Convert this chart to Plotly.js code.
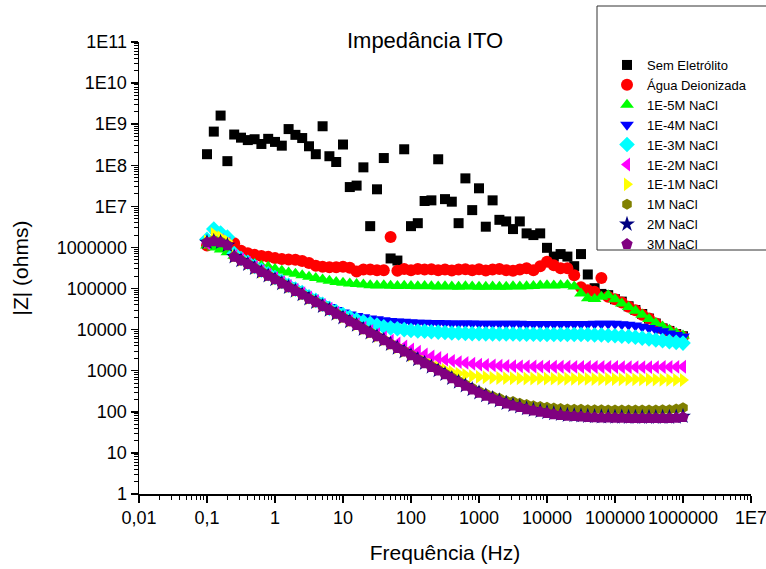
<!DOCTYPE html>
<html>
<head>
<meta charset="utf-8">
<script src="https://cdn.plot.ly/plotly-3.0.1.min.js"></script>
<style>html,body{margin:0;padding:0;background:#fff}#chart{width:766px;height:569px}</style>
</head>
<body>
<div id="chart"></div>
<script>
var freq = [0.1,0.1259,0.1585,0.1995,0.2512,0.3162,0.3981,0.5012,0.631,0.7943,
  1,1.259,1.585,1.995,2.512,3.162,3.981,5.012,6.31,7.943,
  10,12.59,15.85,19.95,25.12,31.62,39.81,50.12,63.1,79.43,
  100,125.9,158.5,199.5,251.2,316.2,398.1,501.2,631,794.3,
  1000,1259,1585,1995,2512,3162,3981,5012,6310,7943,
  10000,12590,15850,19950,25120,31620,39810,50120,63100,79430,
  100000,125900,158500,199500,251200,316200,398100,501200,631000,794300,
  1000000];

var semEletrolito = [1.86e8,6.6e8,1.62e9,1.26e8,5.6e8,4.7e8,4.1e8,4.3e8,3.3e8,4.4e8,
  3.7e8,3.0e8,7.6e8,5.5e8,4.6e8,2.9e8,1.86e8,8.9e8,1.66e8,1.2e8,
  3.2e8,2.95e7,3.2e7,8.9e7,3.3e6,2.6e7,1.5e8,5.4e5,4.8e5,2.45e8,
  3.3e6,3.9e6,1.35e7,1.4e7,1.4e8,1.5e7,1.3e7,3.9e6,4.8e7,8.1e6,
  2.75e7,3.2e6,1.4e7,4.7e6,4.3e6,2.8e6,4.3e6,2.2e6,2.0e6,2.2e6,
  9.8e5,6.0e5,6.9e5,6.0e5,3.5e5,6.9e5,2.2e5,1.02e5,7.4e4,6.9e4,
  5.5e4,4.8e4,3.7e4,3.0e4,2.4e4,1.86e4,1.41e4,1.07e4,9.3e3,7.8e3,
  6.9e3];

var aguaDeionizada = [1.12e6,1.26e6,1.2e6,1.12e6,1.26e6,8.3e5,7.2e5,6.6e5,6.2e5,5.9e5,
  5.5e5,5.2e5,5.1e5,5.0e5,4.7e5,4.2e5,3.6e5,3.4e5,3.3e5,3.3e5,
  3.4e5,3.2e5,2.6e5,2.9e5,2.9e5,2.8e5,2.8e5,1.8e6,2.7e5,3.0e5,
  2.8e5,3.0e5,2.9e5,2.95e5,2.8e5,2.9e5,2.75e5,2.9e5,2.95e5,2.8e5,
  2.95e5,2.75e5,2.9e5,3.0e5,2.8e5,2.7e5,2.9e5,3.1e5,2.8e5,3.5e5,
  4.5e5,3.7e5,3.1e5,3.1e5,2.1e5,1.07e5,9.1e4,8.3e4,1.8e5,6.3e4,
  5.5e4,4.6e4,3.6e4,2.95e4,2.3e4,1.86e4,1.41e4,1.07e4,9.1e3,7.6e3,
  6.6e3];

var nacl1em5 = [1.12e6,1.0e6,8.9e5,7.6e5,6.3e5,5.2e5,4.6e5,4.0e5,3.6e5,3.4e5,
  3.0e5,2.7e5,2.45e5,2.3e5,2.1e5,1.95e5,1.8e5,1.66e5,1.55e5,1.45e5,
  1.38e5,1.32e5,1.29e5,1.26e5,1.2e5,1.18e5,1.2e5,1.17e5,1.15e5,1.17e5,
  1.15e5,1.13e5,1.15e5,1.13e5,1.12e5,1.14e5,1.12e5,1.11e5,1.13e5,1.12e5,
  1.1e5,1.1e5,1.12e5,1.1e5,1.11e5,1.13e5,1.12e5,1.14e5,1.16e5,1.18e5,
  1.2e5,1.18e5,1.2e5,1.22e5,1.12e5,7.6e4,5.8e4,5.6e4,6.3e4,6.9e4,
  5.5e4,4.3e4,3.55e4,2.9e4,2.3e4,1.82e4,1.45e4,1.2e4,1.0e4,8.3e3,
  7.2e3];

var nacl1em4 = [1.41e6,2.4e6,2.0e6,1.58e6,6.6e5,5.3e5,4.3e5,3.4e5,2.75e5,2.25e5,
  1.83e5,1.45e5,1.18e5,9.6e4,7.8e4,6.2e4,5.05e4,4.1e4,3.55e4,3.0e4,
  2.63e4,2.34e4,2.14e4,2.0e4,1.86e4,1.78e4,1.7e4,1.62e4,1.58e4,1.55e4,
  1.51e4,1.48e4,1.48e4,1.45e4,1.45e4,1.43e4,1.42e4,1.42e4,1.41e4,1.41e4,
  1.4e4,1.4e4,1.4e4,1.39e4,1.39e4,1.39e4,1.39e4,1.38e4,1.38e4,1.38e4,
  1.38e4,1.38e4,1.38e4,1.38e4,1.38e4,1.38e4,1.38e4,1.39e4,1.4e4,1.4e4,
  1.39e4,1.35e4,1.32e4,1.26e4,1.17e4,1.1e4,1.0e4,9.1e3,8.1e3,7.4e3,
  6.8e3];

var nacl1em3 = [1.58e6,2.82e6,2.24e6,1.78e6,7.1e5,5.4e5,4.35e5,3.45e5,2.8e5,2.3e5,
  1.86e5,1.48e5,1.2e5,9.7e4,8.0e4,6.3e4,5.15e4,4.15e4,3.3e4,2.75e4,
  2.34e4,2.0e4,1.74e4,1.55e4,1.41e4,1.29e4,1.17e4,1.1e4,1.05e4,1.0e4,
  9.5e3,9.3e3,9.1e3,8.9e3,8.7e3,8.5e3,8.3e3,8.3e3,8.1e3,8.0e3,
  8.0e3,7.9e3,7.9e3,7.8e3,7.8e3,7.8e3,7.7e3,7.7e3,7.7e3,7.6e3,
  7.6e3,7.6e3,7.6e3,7.6e3,7.6e3,7.6e3,7.6e3,7.4e3,7.4e3,7.2e3,
  7.1e3,6.9e3,6.8e3,6.5e3,6.2e3,5.9e3,5.6e3,5.4e3,5.1e3,4.9e3,
  4.7e3];

var nacl1em2 = [1.26e6,1.66e6,1.51e6,1.26e6,6.2e5,5.2e5,4.2e5,3.35e5,2.7e5,2.2e5,
  1.8e5,1.43e5,1.16e5,9.4e4,7.7e4,6.05e4,5.0e4,4.0e4,3.25e4,2.6e4,
  2.0e4,1.62e4,1.35e4,1.12e4,9.3e3,7.8e3,6.5e3,5.4e3,4.6e3,3.9e3,
  3.3e3,2.9e3,2.5e3,2.24e3,2.04e3,1.86e3,1.74e3,1.62e3,1.55e3,1.48e3,
  1.41e3,1.38e3,1.35e3,1.32e3,1.3e3,1.29e3,1.28e3,1.27e3,1.27e3,1.26e3,
  1.26e3,1.25e3,1.25e3,1.25e3,1.24e3,1.24e3,1.24e3,1.23e3,1.23e3,1.23e3,
  1.23e3,1.22e3,1.22e3,1.22e3,1.22e3,1.22e3,1.22e3,1.23e3,1.23e3,1.24e3,
  1.25e3];

var nacl1em1 = [1.41e6,2.14e6,1.78e6,1.41e6,6.3e5,5.0e5,4.1e5,3.25e5,2.6e5,2.15e5,
  1.75e5,1.38e5,1.12e5,9.1e4,7.45e4,5.9e4,4.8e4,3.9e4,3.15e4,2.5e4,
  2.05e4,1.66e4,1.35e4,1.07e4,8.7e3,7.1e3,5.8e3,4.6e3,3.7e3,3.05e3,
  2.4e3,2.0e3,1.66e3,1.41e3,1.2e3,1.05e3,933,851,794,741,
  708,692,676,665,660,655,650,648,645,643,
  640,640,638,636,635,634,632,630,630,628,
  625,622,620,618,615,612,608,605,600,598,
  595];

var nacl1M = [1.35e6,1.5e6,1.4e6,1.15e6,6.1e5,4.95e5,4.0e5,3.2e5,2.6e5,2.1e5,
  1.7e5,1.36e5,1.1e5,9.0e4,7.3e4,5.8e4,4.75e4,3.8e4,3.1e4,2.5e4,
  2.0e4,1.63e4,1.33e4,1.05e4,8.6e3,7.0e3,5.7e3,4.55e3,3.7e3,3.0e3,
  2.45e3,1.94e3,1.58e3,1.29e3,1.05e3,860,690,565,465,380,
  316,275,240,214,185,178,162,151,141,135,
  129,123,120,117,115,115,112,112,112,110,
  110,110,110,110,110,110,110,112,112,117,
  126];

var nacl2M = [1.34e6,1.43e6,1.34e6,1.13e6,5.95e5,4.82e5,3.92e5,3.12e5,2.52e5,2.05e5,
  1.67e5,1.33e5,1.08e5,8.8e4,7.15e4,5.65e4,4.65e4,3.72e4,3.02e4,2.42e4,
  1.96e4,1.59e4,1.3e4,1.03e4,8.4e3,6.85e3,5.55e3,4.45e3,3.58e3,2.92e3,
  2.37e3,1.88e3,1.53e3,1.24e3,1.01e3,822,654,532,433,352,
  292,249,213,186,162,145,133,120,111,104,
  97,91,87,83,82,80,78,77,76,76,
  75,75,74,74,74,74,74,74,74,75,
  78];

var nacl3M = [1.32e6,1.41e6,1.32e6,1.12e6,5.9e5,4.8e5,3.9e5,3.1e5,2.5e5,2.04e5,
  1.66e5,1.32e5,1.07e5,8.7e4,7.1e4,5.6e4,4.6e4,3.7e4,3.0e4,2.4e4,
  1.95e4,1.58e4,1.29e4,1.02e4,8.3e3,6.8e3,5.5e3,4.4e3,3.55e3,2.9e3,
  2.35e3,1.86e3,1.51e3,1.23e3,1.0e3,813,646,525,427,347,
  288,245,209,182,158,141,129,115,107,100,
  93,87,83,79,78,76,74,73,72,72,
  71,71,70,70,70,70,70,70,70,71,
  74];

var seriesNames = ['Sem Eletrólito','Água Deionizada','1E-5M NaCl','1E-4M NaCl','1E-3M NaCl',
  '1E-2M NaCl','1E-1M NaCl','1M NaCl','2M NaCl','3M NaCl'];
var seriesData = [semEletrolito,aguaDeionizada,nacl1em5,nacl1em4,nacl1em3,nacl1em2,nacl1em1,nacl1M,nacl2M,nacl3M];
var colors = ['#000000','#ff0000','#00ff00','#0000ff','#00ffff','#ff00ff','#ffff00','#808000','#000080','#800080'];
var symbols = ['square','circle','triangle-up','triangle-down','diamond','triangle-left','triangle-right','hexagon','star','pentagon'];
var sizes = [10,12,12,12,12,12,12,11,12,12];

var xTickVals = [0.01,0.1,1,10,100,1000,10000,100000,1000000,10000000];
var xTickText = ['0,01','0,1','1','10','100','1000','10000','100000','1000000','1E7'];
var yTickVals = [1,10,100,1000,10000,100000,1000000,1e7,1e8,1e9,1e10,1e11];
var yTickText = ['1','10','100','1000','10000','100000','1000000','1E7','1E8','1E9','1E10','1E11'];

var traces = seriesNames.map(function(n,i){
  return {x: freq, y: seriesData[i], name: n, type:'scatter', mode:'markers',
    marker:{symbol:symbols[i], color:colors[i], size:sizes[i], line:{width:0}}};
});

var L = 139, R = 751, T = 42, B = 494;
var PW = R - L, PH = B - T;
var font = 'Arial, "Liberation Sans", sans-serif';
var layout = {
  width:766, height:569,
  margin:{l:L, r:766-R, t:T, b:569-B},
  paper_bgcolor:'#fff', plot_bgcolor:'#fff',
  font:{family:font, color:'#000'},
  title:{text:'Impedância ITO', font:{family:font, size:22, color:'#000'}, xref:'container', x:425/766, xanchor:'center', yref:'container', y:1-40/569, yanchor:'middle'},
  xaxis:{type:'log', range:[-2,7], tickmode:'array', tickvals:xTickVals, ticktext:xTickText,
    automargin:false, tickangle:0,
    showgrid:false, zeroline:false, showline:true, linecolor:'#000', linewidth:1.5,
    ticks:'outside', ticklen:7, tickwidth:1.5, tickcolor:'#000', tickfont:{size:18, family:font},
    ticklabeloverflow:'allow',
    minor:{ticks:'outside', ticklen:4, tickwidth:1, tickcolor:'#000', dtick:'D1', showgrid:false},
    title:{text:'Frequência (Hz)', font:{size:21, family:font}, standoff:18}},
  yaxis:{type:'log', range:[0,11], tickmode:'array', tickvals:yTickVals, ticktext:yTickText,
    automargin:false,
    showgrid:false, zeroline:false, showline:true, linecolor:'#000', linewidth:1.5,
    ticks:'outside', ticklen:7, tickwidth:1.5, tickcolor:'#000', tickfont:{size:18, family:font},
    minor:{ticks:'outside', ticklen:4, tickwidth:1, tickcolor:'#000', dtick:'D1', showgrid:false},
    title:{text:'|Z| (ohms)', font:{size:21, family:font}, standoff:22}},
  showlegend:true,
  legend:{x:(607-L)/PW, xanchor:'left', y:(B-50)/PH, yanchor:'top', bgcolor:'rgba(0,0,0,0)',
    borderwidth:0, font:{size:13, family:font}, tracegroupgap:0},
  shapes:[{type:'rect', xref:'paper', yref:'paper', x0:(597-L)/PW, x1:(775-L)/PW,
    y0:(B-250)/PH, y1:(B-6)/PH, line:{color:'#333', width:1}, fillcolor:'rgba(0,0,0,0)'}]
};
Plotly.newPlot('chart', traces, layout, {displayModeBar:false, staticPlot:true});
</script>
</body>
</html>
